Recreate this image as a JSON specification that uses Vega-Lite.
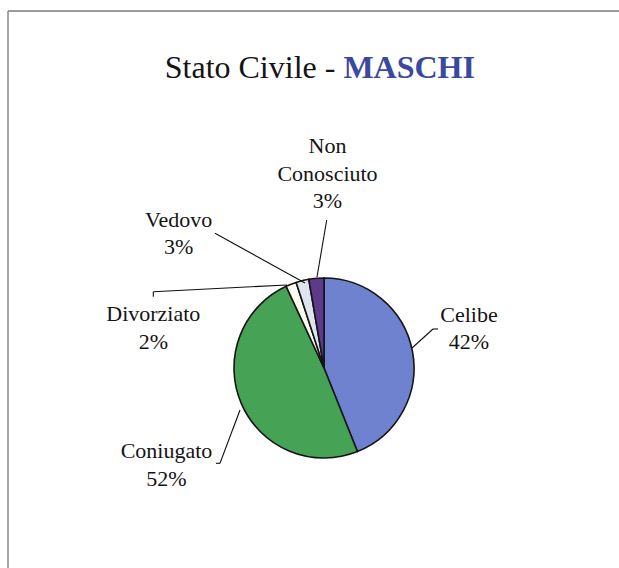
{
  "$schema": "https://vega.github.io/schema/vega-lite/v6.json",
  "width": 611,
  "height": 557,
  "autosize": {"type": "none"},
  "padding": {"left": 8, "top": 11, "right": 0, "bottom": 0},
  "background": "white",
  "config": {"view": {"stroke": null}, "text": {"font": "Liberation Serif"}},
  "datasets": {
    "slices": [
      {"stato": "Celibe", "share": 43.9, "pct": "42%", "ord": 1},
      {"stato": "Coniugato", "share": 49.1, "pct": "52%", "ord": 2},
      {"stato": "Divorziato", "share": 1.9, "pct": "2%", "ord": 3},
      {"stato": "Vedovo", "share": 2.3, "pct": "3%", "ord": 4},
      {"stato": "Non Conosciuto", "share": 2.7, "pct": "3%", "ord": 5}
    ],
    "labels": [
      {"stato": "Celibe", "pct": "42%", "lx": 145, "ly": 46.3},
      {"stato": "Coniugato", "pct": "52%", "lx": -157.5, "ly": -90.3},
      {"stato": "Divorziato", "pct": "2%", "lx": -170.7, "ly": 47},
      {"stato": "Vedovo", "pct": "3%", "lx": -145.3, "ly": 141.3},
      {"stato": "Non Conosciuto", "pct": "3%", "lx": 3.5, "ly": 215}
    ],
    "leaders": [
      {"stato": "Non Conosciuto", "x": 2.7, "y": 148, "x2": -7, "y2": 91},
      {"stato": "Vedovo", "x": -109, "y": 134.7, "x2": -19, "y2": 85},
      {"stato": "Divorziato", "x": -170.7, "y": 71.3, "x2": -170.7, "y2": 76.3},
      {"stato": "Divorziato", "x": -170.7, "y": 76.3, "x2": -37, "y2": 83},
      {"stato": "Celibe", "x": 88, "y": 20, "x2": 109, "y2": 39},
      {"stato": "Celibe", "x": 109, "y": 39, "x2": 114, "y2": 39},
      {"stato": "Coniugato", "x": -108, "y": -95.3, "x2": -104, "y2": -95.3},
      {"stato": "Coniugato", "x": -104, "y": -95.3, "x2": -84, "y2": -42}
    ],
    "titolo": [
      {"parte": "Stato Civile -", "stile": "normale"},
      {"parte": "MASCHI", "stile": "grassetto"}
    ],
    "one": [{}]
  },
  "layer": [
    {
      "data": {"name": "one"},
      "mark": {"type": "rule", "color": "#7a7a7a", "strokeWidth": 1.5},
      "encoding": {
        "y": {"datum": 357, "type": "quantitative", "scale": {"domain": [-200, 357], "nice": false, "zero": false}, "axis": null}
      }
    },
    {
      "data": {"name": "one"},
      "mark": {"type": "rule", "color": "#8a8a8a", "strokeWidth": 1.5},
      "encoding": {
        "x": {"datum": -316, "type": "quantitative", "scale": {"domain": [-316, 295], "nice": false, "zero": false}, "axis": null}
      }
    },
    {
      "data": {"name": "slices"},
      "mark": {"type": "arc", "outerRadius": 90, "stroke": "#151515", "strokeWidth": 1.6},
      "encoding": {
        "theta": {"field": "share", "type": "quantitative", "stack": true},
        "order": {"field": "ord", "type": "quantitative"},
        "color": {
          "field": "stato",
          "type": "nominal",
          "scale": {
            "domain": ["Celibe", "Coniugato", "Divorziato", "Vedovo", "Non Conosciuto"],
            "range": ["#6f82cf", "#46a356", "#fbfbef", "#dfe5ef", "#5e3a8a"]
          },
          "legend": null
        },
        "x": {"datum": 0, "type": "quantitative", "scale": {"domain": [-316, 295], "nice": false, "zero": false}, "axis": null},
        "y": {"datum": 0, "type": "quantitative", "scale": {"domain": [-200, 357], "nice": false, "zero": false}, "axis": null}
      }
    },
    {
      "data": {"name": "leaders"},
      "mark": {"type": "rule", "color": "#111111", "strokeWidth": 1.1},
      "encoding": {
        "x": {"field": "x", "type": "quantitative", "scale": {"domain": [-316, 295], "nice": false, "zero": false}, "axis": null},
        "y": {"field": "y", "type": "quantitative", "scale": {"domain": [-200, 357], "nice": false, "zero": false}, "axis": null},
        "x2": {"field": "x2"},
        "y2": {"field": "y2"}
      }
    },
    {
      "data": {"name": "labels"},
      "transform": [
        {"calculate": "replace(datum.stato, ' ', '\\n') + '\\n' + datum.pct", "as": "etichetta"}
      ],
      "mark": {"type": "text", "font": "Liberation Serif", "fontSize": 22, "lineBreak": "\n", "lineHeight": 27.5, "align": "center", "baseline": "alphabetic", "color": "#141414"},
      "encoding": {
        "x": {"field": "lx", "type": "quantitative", "scale": {"domain": [-316, 295], "nice": false, "zero": false}, "axis": null},
        "y": {"field": "ly", "type": "quantitative", "scale": {"domain": [-200, 357], "nice": false, "zero": false}, "axis": null},
        "text": {"field": "etichetta", "type": "nominal"}
      }
    },
    {
      "data": {"name": "titolo"},
      "transform": [{"filter": "datum.stile == 'normale'"}],
      "mark": {"type": "text", "font": "Liberation Serif", "fontSize": 32, "align": "right", "baseline": "alphabetic", "color": "#141414"},
      "encoding": {
        "text": {"field": "parte", "type": "nominal"},
        "x": {"datum": 11.4, "type": "quantitative", "scale": {"domain": [-316, 295], "nice": false, "zero": false}, "axis": null},
        "y": {"datum": 290, "type": "quantitative", "scale": {"domain": [-200, 357], "nice": false, "zero": false}, "axis": null}
      }
    },
    {
      "data": {"name": "titolo"},
      "transform": [{"filter": "datum.stile == 'grassetto'"}],
      "mark": {"type": "text", "font": "Liberation Serif", "fontSize": 32, "fontWeight": "bold", "align": "left", "baseline": "alphabetic", "color": "#3a48a0"},
      "encoding": {
        "text": {"field": "parte", "type": "nominal"},
        "x": {"datum": 19.4, "type": "quantitative", "scale": {"domain": [-316, 295], "nice": false, "zero": false}, "axis": null},
        "y": {"datum": 290, "type": "quantitative", "scale": {"domain": [-200, 357], "nice": false, "zero": false}, "axis": null}
      }
    }
  ]
}
